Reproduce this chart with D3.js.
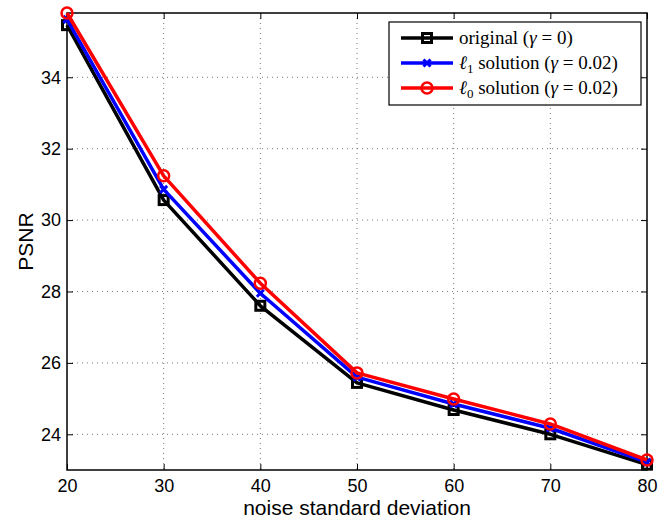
<!DOCTYPE html>
<html lang="en">
<head>
<meta charset="UTF-8">
<title>PSNR</title>
<script src="https://cdn.jsdelivr.net/npm/d3@7"></script>
<style>
  body { margin: 0; background: #fff; }
  .tick text { font-family: "Liberation Sans", Arial, sans-serif; font-size: 18px; fill: #000; }
  .grid line { stroke: #555; stroke-dasharray: 1 4; stroke-width: 0.8; }
</style>
</head>
<body>
<script>
const noise = [20, 30, 40, 50, 60, 70, 80];
const original = [35.46, 30.56, 27.6, 25.44, 24.68, 24.0, 23.15];
const l1sol = [35.62, 30.86, 27.95, 25.6, 24.85, 24.17, 23.22];
const l0sol = [35.8, 31.24, 28.23, 25.72, 24.99, 24.29, 23.28];
const xTicks = [20, 30, 40, 50, 60, 70, 80];
const yTicks = [24, 26, 28, 30, 32, 34];

const W = 667, H = 519;
const m = { left: 67, right: 20, top: 13, bottom: 49 };

const svg = d3.select("body").append("svg").attr("width", W).attr("height", H);

const x = d3.scaleLinear().domain([20, 80]).range([m.left, W - m.right]);
const y = d3.scaleLinear().domain([23, 35.8]).range([H - m.bottom, m.top]);

// grid
const grid = svg.append("g").attr("class", "grid");
grid.selectAll(".gx").data(xTicks.slice(1, -1)).enter().append("line")
  .attr("x1", d => x(d)).attr("x2", d => x(d))
  .attr("y1", m.top).attr("y2", H - m.bottom);
grid.selectAll(".gy").data(yTicks).enter().append("line")
  .attr("x1", m.left).attr("x2", W - m.right)
  .attr("y1", d => y(d)).attr("y2", d => y(d));

// axes with inward ticks
const tk = 6;
svg.append("g").attr("transform", "translate(0," + (H - m.bottom) + ")")
  .call(d3.axisBottom(x).tickValues(xTicks).tickSizeInner(-tk).tickSizeOuter(0).tickPadding(9))
  .call(g => g.select(".domain").remove());
svg.append("g").attr("transform", "translate(0," + m.top + ")")
  .call(d3.axisTop(x).tickValues(xTicks).tickSizeInner(-tk).tickSizeOuter(0).tickFormat(""))
  .call(g => g.select(".domain").remove());
svg.append("g").attr("transform", "translate(" + m.left + ",0)")
  .call(d3.axisLeft(y).tickValues(yTicks).tickSizeInner(-tk).tickSizeOuter(0).tickPadding(6))
  .call(g => g.select(".domain").remove());
svg.append("g").attr("transform", "translate(" + (W - m.right) + ",0)")
  .call(d3.axisRight(y).tickValues(yTicks).tickSizeInner(-tk).tickSizeOuter(0).tickFormat(""))
  .call(g => g.select(".domain").remove());
svg.selectAll(".tick line").attr("stroke", "#000");

svg.append("rect")
  .attr("x", m.left).attr("y", m.top)
  .attr("width", W - m.left - m.right).attr("height", H - m.top - m.bottom)
  .attr("fill", "none").attr("stroke", "#000").attr("stroke-width", 1.5);

// series
const series = [
  { name: "original", vals: original, color: "#000", marker: "square" },
  { name: "l1", vals: l1sol, color: "#0000ff", marker: "x" },
  { name: "l0", vals: l0sol, color: "#ff0000", marker: "circle" }
];
const line = d3.line().x((d, i) => x(noise[i])).y(d => y(d));

function drawMarker(g, type, color, cx, cy) {
  if (type === "square") {
    g.append("rect").attr("x", cx - 4.5).attr("y", cy - 4.5).attr("width", 9).attr("height", 9)
      .attr("fill", "none").attr("stroke", color).attr("stroke-width", 3);
  } else if (type === "x") {
    g.append("path").attr("d", `M${cx-3.5},${cy-3.5}L${cx+3.5},${cy+3.5}M${cx-3.5},${cy+3.5}L${cx+3.5},${cy-3.5}`)
      .attr("stroke", color).attr("stroke-width", 3);
  } else {
    g.append("circle").attr("cx", cx).attr("cy", cy).attr("r", 5.5)
      .attr("fill", "none").attr("stroke", color).attr("stroke-width", 2.5);
  }
}

series.forEach(s => {
  const g = svg.append("g");
  g.append("path").datum(s.vals).attr("d", line)
    .attr("fill", "none").attr("stroke", s.color).attr("stroke-width", 3.5)
    .attr("stroke-linejoin", "round");
  s.vals.forEach((v, i) => drawMarker(g, s.marker, s.color, x(noise[i]), y(v)));
});

// axis labels
svg.append("text")
  .attr("x", (m.left + W - m.right) / 2).attr("y", 515)
  .attr("text-anchor", "middle")
  .style("font-family", "Liberation Sans, Arial, sans-serif").style("font-size", "21px")
  .text("noise standard deviation");
svg.append("text")
  .attr("transform", "translate(33," + ((m.top + H - m.bottom) / 2) + ") rotate(-90)")
  .attr("text-anchor", "middle")
  .style("font-family", "Liberation Sans, Arial, sans-serif").style("font-size", "21px")
  .text("PSNR");

// legend
const lg = svg.append("g");
lg.append("rect").attr("x", 389).attr("y", 22).attr("width", 252).attr("height", 83)
  .attr("fill", "#fff").attr("stroke", "#000").attr("stroke-width", 1.2);
const rows = [38, 63, 88];
const serif = "Liberation Serif, 'DejaVu Serif', serif";
series.forEach((s, i) => {
  const yy = rows[i];
  lg.append("line").attr("x1", 401).attr("x2", 453).attr("y1", yy).attr("y2", yy)
    .attr("stroke", s.color).attr("stroke-width", 3.5);
  drawMarker(lg, s.marker, s.color, 427, yy);
  const t = lg.append("text").attr("x", 459).attr("y", yy + 6)
    .style("font-family", serif).style("font-size", "19px");
  if (s.name === "original") {
    t.append("tspan").text("original (");
    t.append("tspan").style("font-style", "italic").text("γ");
    t.append("tspan").text(" = 0)");
  } else {
    t.append("tspan").style("font-style", "italic").text("ℓ");
    t.append("tspan").attr("dy", 4).style("font-size", "13px").text(s.name === "l1" ? "1" : "0");
    t.append("tspan").attr("dy", -4).text(" solution (");
    t.append("tspan").style("font-style", "italic").text("γ");
    t.append("tspan").text(" = 0.02)");
  }
});
</script>
</body>
</html>
